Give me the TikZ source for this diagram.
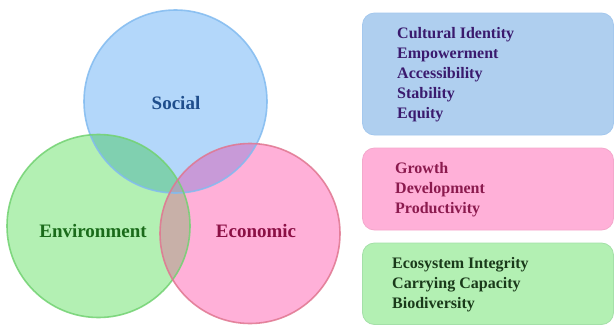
\documentclass[tikz,border=0pt]{standalone}
\usepackage{fontspec}
\setmainfont{Liberation Serif}
\definecolor{bfill}{HTML}{B3D7FA}
\definecolor{gfill}{HTML}{B3F0B3}
\definecolor{pfill}{HTML}{FFB0D8}
\definecolor{bgmix}{HTML}{80D0B0}
\definecolor{bpmix}{HTML}{C89AD8}
\definecolor{gpmix}{HTML}{C8B0A8}
\definecolor{trimix}{HTML}{A8A8B8}
\definecolor{bline}{HTML}{82BBF0}
\definecolor{gline}{HTML}{72D272}
\definecolor{pline}{HTML}{E07690}
\definecolor{boxb}{HTML}{AFCFEF}
\definecolor{boxp}{HTML}{FFB0D8}
\definecolor{boxg}{HTML}{B3F0B3}
\definecolor{boxbline}{HTML}{A4C8EE}
\definecolor{boxpline}{HTML}{F4A8CC}
\definecolor{boxgline}{HTML}{A4E0A8}
\definecolor{socialtxt}{HTML}{1F4E8C}
\definecolor{envtxt}{HTML}{1A6B1A}
\definecolor{ecotxt}{HTML}{8B1045}
\definecolor{btxt}{HTML}{3A1A6E}
\definecolor{ptxt}{HTML}{8B1A4E}
\definecolor{gtxt}{HTML}{1A3A1A}
\begin{document}
\begin{tikzpicture}[x=1pt,y=-1pt,
  biglabel/.style={font=\fontsize{19}{22}\selectfont\bfseries, inner sep=0pt},
  listtext/.style={font=\fontsize{16}{20}\selectfont\bfseries, align=left, anchor=north west, inner sep=0pt},
  infobox/.style={rounded corners=12pt, line width=0.8pt}]
\useasboundingbox (0,0) rectangle (614,325);
\fill[white] (0,0) rectangle (614,325);
% circle fills
\fill[bfill] (175.5,101.5) circle[radius=91.5];
\fill[gfill] (98.5,226) circle[radius=91.5];
\fill[pfill] (250,233.5) circle[radius=90];
\begin{scope}
  \clip (175.5,101.5) circle[radius=91.5];
  \fill[bgmix] (98.5,226) circle[radius=91.5];
  \fill[bpmix] (250,233.5) circle[radius=90];
\end{scope}
\begin{scope}
  \clip (98.5,226) circle[radius=91.5];
  \fill[gpmix] (250,233.5) circle[radius=90];
  \clip (175.5,101.5) circle[radius=91.5];
  \fill[trimix] (250,233.5) circle[radius=90];
\end{scope}
% circle outlines
\draw[bline, line width=1.6pt, opacity=0.85] (175.5,101.5) circle[radius=91.5];
\draw[gline, line width=1.6pt, opacity=0.85] (98.5,226) circle[radius=91.5];
\draw[pline, line width=1.6pt, opacity=0.85] (250,233.5) circle[radius=90];
% labels
\node[biglabel, text=socialtxt] (social) at (176,103) {Social};
\node[biglabel, text=envtxt] (env) at (93,231) {Environment};
\node[biglabel, text=ecotxt] (eco) at (256,231) {Economic};
% boxes
\draw[infobox, fill=boxb, draw=boxbline] (362.5,13) rectangle (613.5,135);
\draw[infobox, fill=boxp, draw=boxpline] (362.5,148) rectangle (613.5,230);
\draw[infobox, fill=boxg, draw=boxgline] (362.5,243) rectangle (613.5,324.5);
\node[listtext, text=btxt] (blist) at (397,27) {Cultural Identity\\Empowerment\\Accessibility\\Stability\\Equity};
\node[listtext, text=ptxt] (plist) at (395,162) {Growth\\Development\\Productivity};
\node[listtext, text=gtxt] (glist) at (392,257) {Ecosystem Integrity\\Carrying Capacity\\Biodiversity};
\end{tikzpicture}
\end{document}
